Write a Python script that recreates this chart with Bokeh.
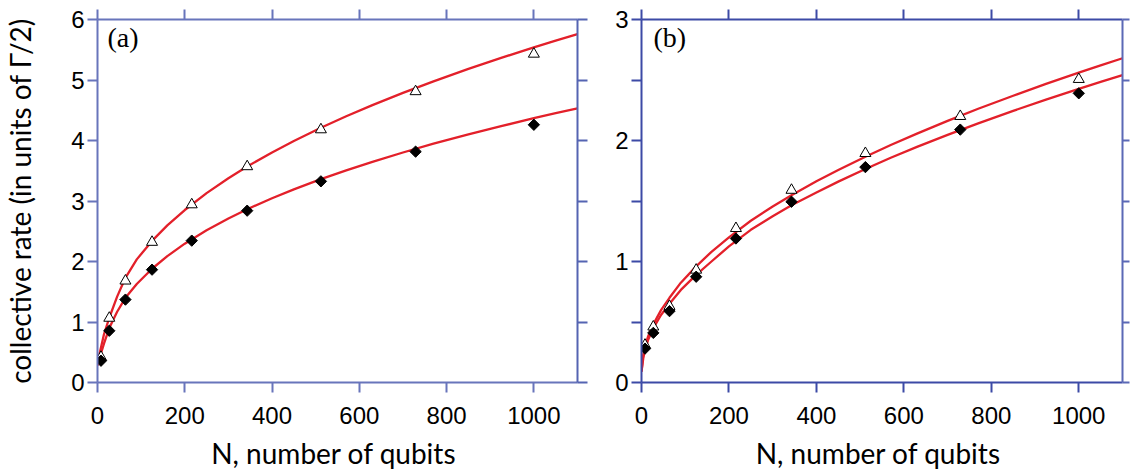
from bokeh.plotting import figure
from bokeh.layouts import row
from bokeh.models import Range1d, FixedTicker, LinearAxis, Label, CustomLabelingPolicy
from bokeh.embed import file_html
from bokeh.resources import INLINE

# ---- data ----
N_pts = [8, 27, 64, 125, 216, 343, 512, 729, 1000]
a_tri = [0.42, 1.065, 1.68, 2.32, 2.94, 3.57, 4.18, 4.81, 5.43]
a_dia = [0.36, 0.855, 1.37, 1.865, 2.345, 2.84, 3.325, 3.816, 4.26]
b_tri = [0.31, 0.46, 0.63, 0.93, 1.274, 1.59, 1.894, 2.20, 2.506]
b_dia = [0.28, 0.41, 0.59, 0.874, 1.19, 1.494, 1.78, 2.09, 2.39]

# fitted curves at these N
N_fit = [0, 4, 8, 15, 27, 45, 64, 90, 125, 160, 200, 250, 300, 343, 400, 450,
         512, 570, 630, 700, 770, 850, 925, 1000, 1050, 1100]
a_fit_up = [0.31, 0.45, 0.58, 0.80, 1.07, 1.42, 1.73, 2.035, 2.34, 2.597, 2.851, 3.13, 3.376,
            3.569, 3.803, 3.992, 4.21, 4.40, 4.585, 4.787, 4.978, 5.183, 5.365, 5.54, 5.65, 5.759]
a_fit_lo = [0.28, 0.38, 0.48, 0.645, 0.90, 1.17, 1.40, 1.629, 1.88, 2.089, 2.295, 2.517, 2.712,
            2.863, 3.046, 3.193, 3.361, 3.507, 3.648, 3.802, 3.947, 4.101, 4.238, 4.368, 4.451, 4.532]
b_fit_up = [0.09, 0.23, 0.30, 0.38, 0.48, 0.60, 0.70, 0.825, 0.96, 1.08, 1.20, 1.337, 1.455,
            1.548, 1.663, 1.756, 1.866, 1.963, 2.057, 2.162, 2.262, 2.370, 2.468, 2.561, 2.621, 2.680]
b_fit_lo = [0.09, 0.20, 0.27, 0.35, 0.45, 0.56, 0.65, 0.765, 0.89, 1.00, 1.125, 1.262, 1.374,
            1.465, 1.571, 1.660, 1.764, 1.857, 1.947, 2.046, 2.141, 2.245, 2.338, 2.426, 2.484, 2.54]

x_ticks = [0, 200, 400, 600, 800, 1000]
a_yticks = [0, 1, 2, 3, 4, 5, 6]
b_yticks = [0, 0.5, 1, 1.5, 2, 2.5, 3]
b_ylabels = {0: "0", 0.5: "", 1: "1", 1.5: "", 2: "2", 2.5: "", 3: "3"}

ylabel_text = "collective rate (in units of \u0393/2)"
xlabel_text = "N,  number of qubits"

RED = "#e3202a"
H = 473
TICK_FONT = "Liberation Sans"
TICK_SIZE = "24px"

HIDE_ALL = "for (const i of indices) indices.unset(i); return indices;"
HIDE_ODD = "for (const i of indices) { if (i % 2 == 1) indices.unset(i); } return indices;"


def style_axis(ax, color, show_labels, tick_out=10):
    ax.axis_line_color = color
    ax.axis_line_width = 2
    ax.major_tick_line_color = color
    ax.major_tick_line_width = 2
    ax.major_tick_out = tick_out
    ax.major_tick_in = 0
    ax.minor_tick_out = 0
    ax.minor_tick_in = 0
    if show_labels:
        ax.major_label_text_font = TICK_FONT
        ax.major_label_text_font_size = TICK_SIZE
        ax.major_label_text_color = "black"
    else:
        ax.major_label_text_font_size = "1px"
        ax.major_label_standoff = 0
        ax.major_label_policy = CustomLabelingPolicy(code=HIDE_ALL)


def make_panel(width, left_border, right_border, ymax, yticks, ylabels,
               color, right_color, yvals_up, yvals_lo, tri, dia, letter,
               letter_x, ylabel=None, right_tick_out=10):
    p = figure(width=width, height=H,
               x_range=Range1d(0, 1100), y_range=Range1d(0, ymax),
               output_backend="svg", toolbar_location=None,
               min_border_left=left_border, min_border_right=right_border,
               min_border_top=19, min_border_bottom=91)
    p.grid.visible = False
    p.outline_line_color = None
    p.background_fill_color = "white"
    p.border_fill_color = "white"

    # bottom and left axes
    xa = p.xaxis[0]
    xa.ticker = FixedTicker(ticks=x_ticks)
    style_axis(xa, color, True)
    xa.major_label_standoff = 14
    xa.axis_label = xlabel_text
    xa.axis_label_text_font = "Lato"
    xa.axis_label_text_font_size = "28px"
    xa.axis_label_text_font_style = "normal"
    xa.axis_label_text_color = "black"
    xa.axis_label_standoff = 9

    ya = p.yaxis[0]
    ya.ticker = FixedTicker(ticks=yticks)
    if ylabels:
        ya.major_label_overrides = ylabels
        ya.major_label_policy = CustomLabelingPolicy(code=HIDE_ODD)
    style_axis(ya, color, True)
    ya.major_label_standoff = 3
    if ylabel:
        ya.axis_label = ylabel
        ya.axis_label_text_font = "Lato"
        ya.axis_label_text_font_size = "28px"
        ya.axis_label_text_font_style = "normal"
        ya.axis_label_text_color = "black"
        ya.axis_label_standoff = 31

    top = LinearAxis(ticker=FixedTicker(ticks=x_ticks))
    style_axis(top, color, False)
    p.add_layout(top, "above")

    right = LinearAxis(ticker=FixedTicker(ticks=yticks))
    style_axis(right, right_color, False, tick_out=right_tick_out)
    p.add_layout(right, "right")

    # fit curves
    p.line(N_fit, yvals_up, line_color=RED, line_width=2.3, line_join="round")
    p.line(N_fit, yvals_lo, line_color=RED, line_width=2.3, line_join="round")

    # data points
    p.scatter(N_pts, tri, marker="triangle", size=11, fill_color="white",
              line_color="black", line_width=1)
    p.scatter(N_pts, dia, marker="square", angle=0.785398, size=8,
              fill_color="black", line_color="black", line_width=1)

    p.add_layout(Label(x=letter_x, y=345, x_units="screen", y_units="screen",
                       text=letter, text_font="Liberation Serif",
                       text_font_size="28px", text_color="black",
                       text_baseline="alphabetic"))
    return p


pa = make_panel(597, 94, 20, 6, a_yticks, None, "#6875bb", "#5564b2",
                a_fit_up, a_fit_lo, a_tri, a_dia, "(a)", 10, ylabel=ylabel_text)
pb = make_panel(536, 44, 7, 3, b_yticks, b_ylabels, "#3c4aa6", "#5b69b6",
                b_fit_up, b_fit_lo, b_tri, b_dia, "(b)", 12, right_tick_out=7)

layout = row(pa, pb, spacing=0)
open("out.html", "w").write(file_html(layout, INLINE))
